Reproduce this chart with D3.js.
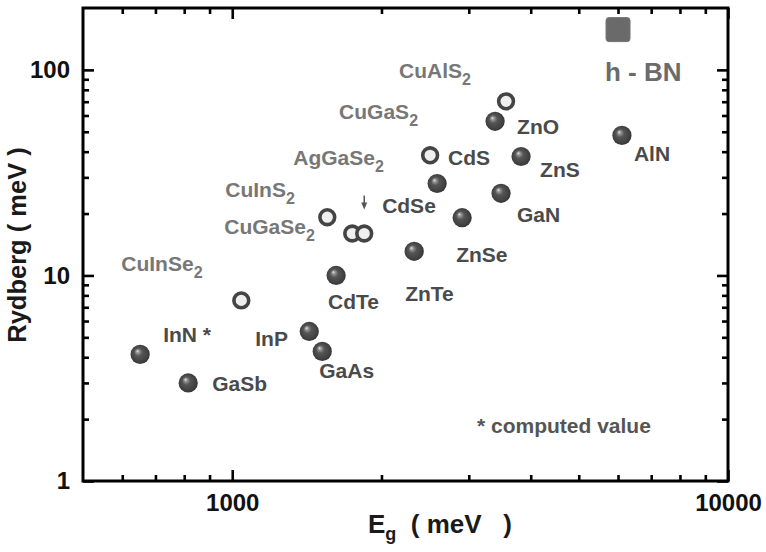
<!DOCTYPE html>
<html>
<head>
<meta charset="utf-8">
<script src="https://cdn.jsdelivr.net/npm/d3@7"></script>
<style>
body { margin: 0; background: #fff; }
text { font-family: "Liberation Sans", Arial, sans-serif; font-weight: bold; }
</style>
</head>
<body>
<div id="chart"></div>
<script>
// Werte (Eg in meV, Rydberg in meV)
var sphereNames = ["InN", "GaSb", "InP", "GaAs", "CdTe", "ZnTe", "CdSe", "ZnSe", "GaN", "ZnS", "ZnO", "AlN"];
var sphereEg = [652, 815, 1430, 1519, 1620, 2328, 2590, 2909, 3485, 3825, 3390, 6110];
var sphereRyd = [4.13, 3.0, 5.34, 4.27, 10.0, 13.1, 28.0, 19.1, 25.1, 37.9, 56.2, 48.0];

var ringNames = ["CuInSe2", "CuInS2", "CuGaSe2", "AgGaSe2", "CuGaS2", "CuAlS2"];
var ringEg = [1043, 1555, 1746, 1846, 2507, 3567];
var ringRyd = [7.56, 19.2, 16.0, 16.0, 38.4, 70.3];

var squareNames = ["hBN"];
var squareEg = [6000];
var squareRyd = [157];

var xMajor = [1000, 10000];
var xMinor = [600, 700, 800, 900, 2000, 3000, 4000, 5000, 6000, 7000, 8000, 9000];
var yMajor = [1, 10, 100];
var yMinor = [2, 3, 4, 5, 6, 7, 8, 9, 20, 30, 40, 50, 60, 70, 80, 90];

// Beschriftungen: Text, Bezugspunkt, Versatz in px
var notes = [
  {at: "InN", text: "InN *", dx: 23, dy: -12, tone: "dark"},
  {at: "GaSb", text: "GaSb", dx: 24, dy: 8, tone: "dark"},
  {at: "InP", text: "InP", dx: -54, dy: 15, tone: "dark"},
  {at: "GaAs", text: "GaAs", dx: -3, dy: 27, tone: "dark"},
  {at: "CdTe", text: "CdTe", dx: -8, dy: 34, tone: "dark"},
  {at: "ZnTe", text: "ZnTe", dx: -9, dy: 50, tone: "dark"},
  {at: "CdSe", text: "CdSe", dx: -55, dy: 29, tone: "dark"},
  {at: "ZnSe", text: "ZnSe", dx: -6, dy: 44, tone: "dark"},
  {at: "GaN", text: "GaN", dx: 16, dy: 29, tone: "dark"},
  {at: "ZnS", text: "ZnS", dx: 19, dy: 21, tone: "dark"},
  {at: "ZnO", text: "ZnO", dx: 22, dy: 13, tone: "dark"},
  {at: "AlN", text: "AlN", dx: 12, dy: 26, tone: "dark"},
  {at: "CuGaS2", text: "CdS", dx: 18, dy: 10, tone: "dark"},
  {at: "CuInSe2", text: "CuInSe", sub: "2", dx: -120, dy: -29, tone: "light"},
  {at: "CuInS2", text: "CuInS", sub: "2", dx: -102, dy: -20, tone: "light"},
  {at: "CuGaSe2", text: "CuGaSe", sub: "2", dx: -128, dy: 1, tone: "light"},
  {at: "AgGaSe2", text: "AgGaSe", sub: "2", dx: -71, dy: -68, tone: "light"},
  {at: "CuGaS2", text: "CuGaS", sub: "2", dx: -91, dy: -36, tone: "light"},
  {at: "CuAlS2", text: "CuAlS", sub: "2", dx: -107, dy: -23, tone: "light"},
  {at: "hBN", text: "h - BN", dx: -13, dy: 51, tone: "bn"}
];

var width = 766;
var height = 552;
var pLeft = 83, pRight = 728, pTop = 8, pBottom = 481;

var svg = d3.select("#chart")
  .append("svg")
  .attr("width", width)
  .attr("height", height);

var x = d3.scaleLog().domain([500, 10000]).range([pLeft, pRight]);
var y = d3.scaleLog().domain([1, 200]).range([pBottom, pTop]);

// Kugel-Verlauf
var grad = svg.append("defs")
  .append("radialGradient")
  .attr("id", "ball")
  .attr("cx", "50%").attr("cy", "50%").attr("r", "55%")
  .attr("fx", "35%").attr("fy", "32%");
grad.append("stop").attr("offset", "0%").attr("stop-color", "#f4f4f4");
grad.append("stop").attr("offset", "12%").attr("stop-color", "#a0a0a0");
grad.append("stop").attr("offset", "38%").attr("stop-color", "#555");
grad.append("stop").attr("offset", "80%").attr("stop-color", "#404040");
grad.append("stop").attr("offset", "100%").attr("stop-color", "#2e2e2e");

// Achsen mit Ticks nach innen
function ticks(axis, tr, values, len, withText) {
  var g = svg.append("g")
    .attr("transform", tr)
    .call(axis.tickValues(values)
      .tickSizeInner(-len)
      .tickSizeOuter(0)
      .tickPadding(13)
      .tickFormat(withText ? d3.format("d") : ""));
  g.select(".domain").remove();
  g.selectAll(".tick line")
    .attr("stroke", "#000")
    .attr("stroke-width", 2.6);
  g.selectAll(".tick text")
    .attr("fill", "#111")
    .attr("font-size", 24)
    .attr("font-family", "'Liberation Sans', Arial, sans-serif")
    .attr("font-weight", "bold");
  return g;
}

ticks(d3.axisBottom(x), "translate(0," + pBottom + ")", xMajor, 11, true);
ticks(d3.axisBottom(x), "translate(0," + pBottom + ")", xMinor, 6, false);
ticks(d3.axisTop(x), "translate(0," + pTop + ")", xMajor, 11, false);
ticks(d3.axisTop(x), "translate(0," + pTop + ")", xMinor, 6, false);
ticks(d3.axisLeft(y), "translate(" + pLeft + ",0)", yMajor, 11, true);
ticks(d3.axisLeft(y), "translate(" + pLeft + ",0)", yMinor, 6, false);
ticks(d3.axisRight(y), "translate(" + pRight + ",0)", yMajor, 11, false);
ticks(d3.axisRight(y), "translate(" + pRight + ",0)", yMinor, 6, false);

// Rahmen
svg.append("rect")
  .attr("x", pLeft)
  .attr("y", pTop)
  .attr("width", pRight - pLeft)
  .attr("height", pBottom - pTop)
  .attr("fill", "none")
  .attr("stroke", "#000")
  .attr("stroke-width", 3);

// Achsentitel
svg.append("text")
  .attr("transform", "translate(26,245) rotate(-90)")
  .attr("text-anchor", "middle")
  .attr("font-size", 25.5)
  .attr("fill", "#1a1a1a")
  .text("Rydberg ( meV )");

var xt = svg.append("text")
  .attr("x", 368)
  .attr("y", 533)
  .attr("font-size", 26)
  .attr("fill", "#1a1a1a");
xt.append("tspan").text("E");
xt.append("tspan").attr("font-size", 18).attr("dy", 7).text("g");
xt.append("tspan").attr("dy", -7).text("\u00a0\u00a0(\u00a0meV\u00a0\u00a0\u00a0)");

// Punkte
var pos = {};
sphereNames.forEach(function(n, i) { pos[n] = [x(sphereEg[i]), y(sphereRyd[i])]; });
ringNames.forEach(function(n, i) { pos[n] = [x(ringEg[i]), y(ringRyd[i])]; });
squareNames.forEach(function(n, i) { pos[n] = [x(squareEg[i]), y(squareRyd[i])]; });

svg.append("g").selectAll("rect")
  .data(squareNames)
  .enter().append("rect")
  .attr("x", function(d, i) { return x(squareEg[i]) - 12; })
  .attr("y", function(d, i) { return y(squareRyd[i]) - 12; })
  .attr("width", 24)
  .attr("height", 24)
  .attr("rx", 3)
  .attr("fill", "#6a6a6a")
  .attr("stroke", "#747474")
  .attr("stroke-width", 1);

svg.append("g").selectAll("circle")
  .data(ringNames)
  .enter().append("circle")
  .attr("cx", function(d, i) { return x(ringEg[i]); })
  .attr("cy", function(d, i) { return y(ringRyd[i]); })
  .attr("r", 7.4)
  .attr("fill", "#efefef")
  .attr("stroke", "#444")
  .attr("stroke-width", 3.6);

svg.append("g").selectAll("circle")
  .data(sphereNames)
  .enter().append("circle")
  .attr("cx", function(d, i) { return x(sphereEg[i]); })
  .attr("cy", function(d, i) { return y(sphereRyd[i]); })
  .attr("r", 9.6)
  .attr("fill", "url(#ball)");

// kleiner Pfeil ueber AgGaSe2
var ag = pos["AgGaSe2"];
svg.append("line")
  .attr("x1", ag[0]).attr("y1", ag[1] - 38)
  .attr("x2", ag[0]).attr("y2", ag[1] - 30)
  .attr("stroke", "#555")
  .attr("stroke-width", 1.5);
svg.append("path")
  .attr("d", "M" + (ag[0] - 3) + "," + (ag[1] - 31) + "L" + (ag[0] + 3) + "," + (ag[1] - 31) + "L" + ag[0] + "," + (ag[1] - 24) + "Z")
  .attr("fill", "#555");

// Beschriftungen
var toneColor = {dark: "#4a4a4a", light: "#777", bn: "#6b6b6b"};
var toneSize = {dark: 21, light: 21, bn: 26};
notes.forEach(function(n) {
  var p = pos[n.at];
  var t = svg.append("text")
    .attr("x", p[0] + n.dx)
    .attr("y", p[1] + n.dy)
    .attr("font-size", toneSize[n.tone])
    .attr("fill", toneColor[n.tone]);
  t.append("tspan").text(n.text);
  if (n.sub) {
    t.append("tspan").attr("font-size", 16).attr("dy", 7).text(n.sub);
  }
});

svg.append("text")
  .attr("x", 477)
  .attr("y", 433)
  .attr("font-size", 21)
  .attr("fill", "#555")
  .text("* computed value");
</script>
</body>
</html>
